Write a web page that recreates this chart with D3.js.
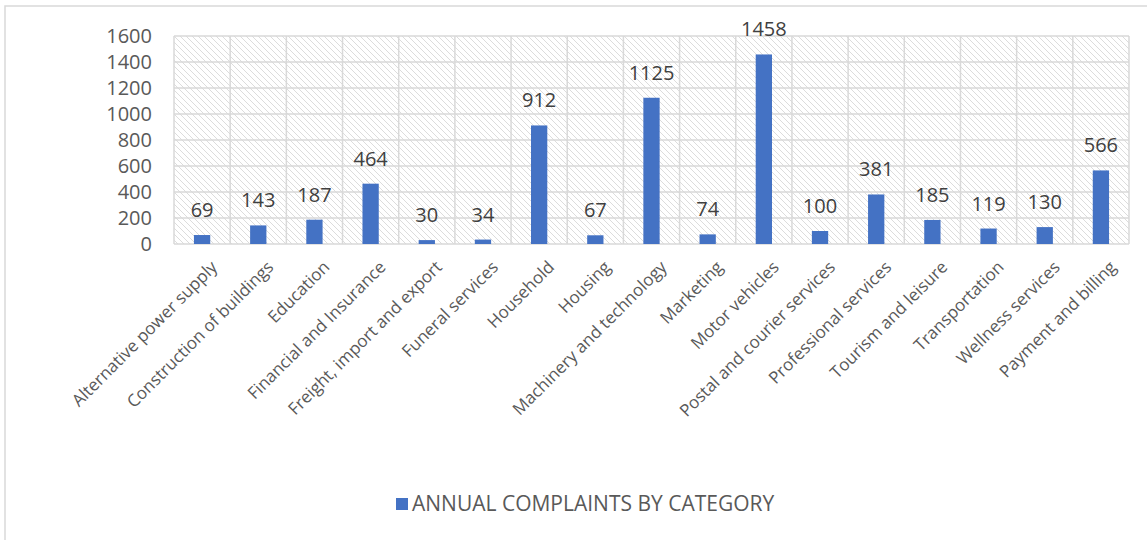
<!DOCTYPE html>
<html>
<head>
<meta charset="utf-8">
<script src="https://cdn.jsdelivr.net/npm/d3@7"></script>
<style>
  body { margin: 0; background: #fff; }
  svg { display: block; font-family: "Open Sans", sans-serif; }
</style>
</head>
<body>
<svg id="chart"></svg>
<script>
var categories = ["Alternative power supply", "Construction of buildings", "Education",
  "Financial and Insurance", "Freight, import and export", "Funeral services", "Household",
  "Housing", "Machinery and technology", "Marketing", "Motor vehicles",
  "Postal and courier services", "Professional services", "Tourism and leisure",
  "Transportation", "Wellness services", "Payment and billing"]
var complaints = [69, 143, 187, 464, 30, 34, 912, 67, 1125, 74, 1458, 100, 381, 185, 119, 130, 566]
var yTicks = [0, 200, 400, 600, 800, 1000, 1200, 1400, 1600]
var seriesName = "ANNUAL COMPLAINTS BY CATEGORY"

var width = 1147, height = 540
var margin = ({top: 36, right: 18, bottom: 296, left: 174})
var textColor = "#595959"
var gridColor = "#d9d9d9"
var barColor = "#4472c4"

var svg = d3.select("#chart")
    .attr("width", width)
    .attr("height", height)
    .attr("viewBox", [0, 0, width, height])

// outer chart border (only top/left are inside the picture)
svg.append("rect")
    .attr("x", 5).attr("y", 6)
    .attr("width", width + 10).attr("height", height + 10)
    .attr("fill", "#fff")
    .attr("stroke", gridColor)
    .attr("stroke-width", 1.5)

var defs = svg.append("defs")
var pat = defs.append("pattern")
    .attr("id", "hatch")
    .attr("patternUnits", "userSpaceOnUse")
    .attr("width", 6).attr("height", 6)
pat.append("path")
    .attr("d", "M-1,-1 L7,7 M-1,5 L1,7 M5,-1 L7,1")
    .attr("stroke", "#dcdcdc")
    .attr("stroke-width", 1)

var x = d3.scaleBand()
    .domain(categories)
    .range([margin.left, width - margin.right])
    .padding(0)

var y = d3.scaleLinear()
    .domain([0, 1600])
    .range([height - margin.bottom, margin.top])

// plot background
svg.append("rect")
    .attr("x", margin.left)
    .attr("y", margin.top)
    .attr("width", width - margin.right - margin.left)
    .attr("height", y(0) - margin.top)
    .attr("fill", "url(#hatch)")

// horizontal grid
svg.append("g")
    .selectAll("line")
    .data(yTicks)
    .join("line")
    .attr("x1", margin.left)
    .attr("x2", width - margin.right)
    .attr("y1", d => y(d))
    .attr("y2", d => y(d))
    .attr("stroke", gridColor)
    .attr("stroke-width", 1.5)

// vertical grid at category boundaries
var bounds = categories.map(c => x(c)).concat([width - margin.right])
svg.append("g")
    .selectAll("line")
    .data(bounds)
    .join("line")
    .attr("x1", d => d)
    .attr("x2", d => d)
    .attr("y1", margin.top)
    .attr("y2", y(0))
    .attr("stroke", gridColor)
    .attr("stroke-width", 1.5)

// y axis labels
var yAxis = g => g
    .attr("transform", `translate(${margin.left},0)`)
    .call(d3.axisLeft(y).tickValues(yTicks).tickFormat(d3.format("d")).tickSize(0).tickPadding(22))
    .call(g => g.select(".domain").remove())
    .call(g => g.selectAll("text")
        .attr("fill", textColor)
        .attr("font-size", 20)
        .attr("font-family", "Open Sans, sans-serif"))
svg.append("g").call(yAxis)

// bars
var barW = x.bandwidth() * 0.29
svg.append("g")
    .selectAll("rect")
    .data(complaints)
    .join("rect")
    .attr("x", (d, i) => x(categories[i]) + (x.bandwidth() - barW) / 2)
    .attr("y", d => y(d))
    .attr("width", barW)
    .attr("height", d => y(0) - y(d))
    .attr("fill", barColor)

// data labels
svg.append("g")
    .selectAll("text")
    .data(complaints)
    .join("text")
    .attr("x", (d, i) => x(categories[i]) + x.bandwidth() / 2)
    .attr("y", d => y(d) - 18)
    .attr("text-anchor", "middle")
    .attr("fill", "#404040")
    .attr("font-size", 20)
    .text(d => d)

// x axis labels, rotated
var xAxis = g => g
    .attr("transform", `translate(0,${y(0)})`)
    .call(d3.axisBottom(x).tickSize(0).tickPadding(0))
    .call(g => g.select(".domain").remove())
    .call(g => g.selectAll("text")
        .attr("fill", textColor)
        .attr("font-size", 17)
        .attr("font-family", "Open Sans, sans-serif")
        .attr("text-anchor", "end")
        .attr("dy", "0.35em")
        .attr("transform", "translate(12,20) rotate(-45)"))
svg.append("g").call(xAxis)

// legend
var legend = svg.append("g")
    .attr("transform", "translate(396,498)")
legend.append("rect")
    .attr("width", 12).attr("height", 12)
    .attr("fill", barColor)
legend.append("text")
    .attr("x", 16)
    .attr("y", 13)
    .attr("fill", textColor)
    .attr("font-size", 21)
    .text(seriesName)
</script>
</body>
</html>
